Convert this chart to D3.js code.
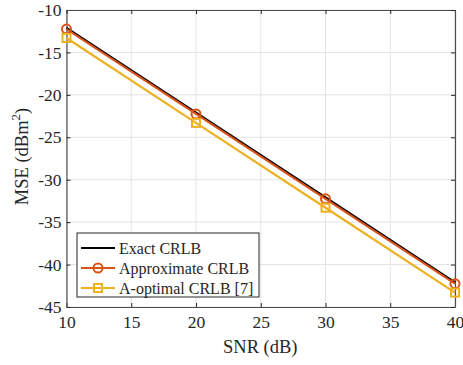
<!DOCTYPE html>
<html>
<head>
<meta charset="utf-8">
<script src="https://cdn.jsdelivr.net/npm/d3@7"></script>
<style>
  body { margin: 0; background: #fff; }
  text { font-family: "Liberation Serif", "Times New Roman", serif; fill: #262626; }
</style>
</head>
<body>
<svg id="chart" width="463" height="365"></svg>
<script>
const snr = [10, 20, 30, 40];
const exactCrlb = [-12.1, -22.1, -32.1, -42.1];
const approxCrlb = [-12.25, -22.25, -32.25, -42.25];
const aOptimalCrlb = [-13.3, -23.3, -33.3, -43.3];
const xTicks = [10, 15, 20, 25, 30, 35, 40];
const yTicks = [-10, -15, -20, -25, -30, -35, -40, -45];

const series = [
  { name: 'Exact CRLB', values: exactCrlb, color: '#000000', marker: null },
  { name: 'Approximate CRLB', values: approxCrlb, color: '#D95319', marker: 'circle' },
  { name: 'A-optimal CRLB [7]', values: aOptimalCrlb, color: '#EDB120', marker: 'square' }
];

const margin = { top: 10, right: 8, bottom: 58, left: 66.5 };
const width = 463 - margin.left - margin.right;
const height = 365 - margin.top - margin.bottom;

const svg = d3.select('#chart');
const g = svg.append('g').attr('transform', `translate(${margin.left},${margin.top})`);

const x = d3.scaleLinear().domain([10, 40]).range([0, width]);
const y = d3.scaleLinear().domain([-45, -10]).range([height, 0]);

// grid
g.append('g').selectAll('line').data(xTicks).enter().append('line')
  .attr('x1', d => x(d)).attr('x2', d => x(d)).attr('y1', 0).attr('y2', height)
  .attr('stroke', '#e3e3e3').attr('stroke-width', 1);
g.append('g').selectAll('line').data(yTicks).enter().append('line')
  .attr('y1', d => y(d)).attr('y2', d => y(d)).attr('x1', 0).attr('x2', width)
  .attr('stroke', '#e3e3e3').attr('stroke-width', 1);

// axes
const xAxis = g.append('g').attr('transform', `translate(0,${height})`)
  .call(d3.axisBottom(x).tickValues(xTicks).tickSizeInner(-4).tickSizeOuter(0).tickPadding(9));
const yAxis = g.append('g')
  .call(d3.axisLeft(y).tickValues(yTicks).tickSizeInner(-4).tickSizeOuter(0).tickPadding(5));
const xTop = g.append('g')
  .call(d3.axisTop(x).tickValues(xTicks).tickSizeInner(-4).tickSizeOuter(0).tickFormat(''));
const yRight = g.append('g').attr('transform', `translate(${width},0)`)
  .call(d3.axisRight(y).tickValues(yTicks).tickSizeInner(-4).tickSizeOuter(0).tickFormat(''));

[xAxis, yAxis, xTop, yRight].forEach(a => {
  a.attr('font-family', null);
  a.select('.domain').attr('stroke', '#4d4d4d').attr('stroke-width', 1.2);
  a.selectAll('.tick line').attr('stroke', '#262626');
  a.selectAll('.tick text').style('font-size', '17.5px').attr('fill', '#262626')
    .style('font-family', '"Liberation Serif", "Times New Roman", serif');
});
yAxis.selectAll('.tick text').text(d => d < 0 ? '-' + Math.abs(d) : d);

// lines
const line = d3.line().x((d, i) => x(snr[i])).y(d => y(d));
series.forEach(s => {
  g.append('path').datum(s.values)
    .attr('fill', 'none').attr('stroke', s.color).attr('stroke-width', 2.2)
    .attr('d', line);
});

series.forEach(s => {
  if (s.marker === 'circle') {
    g.selectAll(null).data(s.values).enter().append('circle')
      .attr('cx', (d, i) => x(snr[i])).attr('cy', d => y(d)).attr('r', 4.5)
      .attr('fill', 'none').attr('stroke', s.color).attr('stroke-width', 2);
  } else if (s.marker === 'square') {
    g.selectAll(null).data(s.values).enter().append('rect')
      .attr('x', (d, i) => x(snr[i]) - 4).attr('y', d => y(d) - 4)
      .attr('width', 8).attr('height', 8)
      .attr('fill', 'none').attr('stroke', s.color).attr('stroke-width', 2);
  }
});

// axis labels
svg.append('text').attr('x', margin.left + width / 2 - 0.5).attr('y', 353)
  .attr('text-anchor', 'middle').style('font-size', '18.5px').text('SNR (dB)');
const yl = svg.append('text')
  .attr('transform', `translate(28,${margin.top + height / 2 - 2}) rotate(-90)`)
  .attr('text-anchor', 'middle').style('font-size', '18.5px');
yl.append('tspan').text('MSE (dBm');
yl.append('tspan').attr('dy', -8).style('font-size', '13px').text('2');
yl.append('tspan').attr('dy', 8).text(')');

// legend
const lg = svg.append('g').attr('transform', 'translate(77,233)');
lg.append('rect').attr('width', 182).attr('height', 64)
  .attr('fill', '#fff').attr('stroke', '#262626').attr('stroke-width', 1);
series.forEach((s, i) => {
  const yy = 15 + i * 20;
  lg.append('line').attr('x1', 4).attr('x2', 38).attr('y1', yy).attr('y2', yy)
    .attr('stroke', s.color).attr('stroke-width', 2.2);
  if (s.marker === 'circle') {
    lg.append('circle').attr('cx', 21).attr('cy', yy).attr('r', 4.5)
      .attr('fill', 'none').attr('stroke', s.color).attr('stroke-width', 2);
  } else if (s.marker === 'square') {
    lg.append('rect').attr('x', 17).attr('y', yy - 4).attr('width', 8).attr('height', 8)
      .attr('fill', 'none').attr('stroke', s.color).attr('stroke-width', 2);
  }
  lg.append('text').attr('x', 42).attr('y', yy + 5.5).style('font-size', '16px').text(s.name);
});
</script>
</body>
</html>
